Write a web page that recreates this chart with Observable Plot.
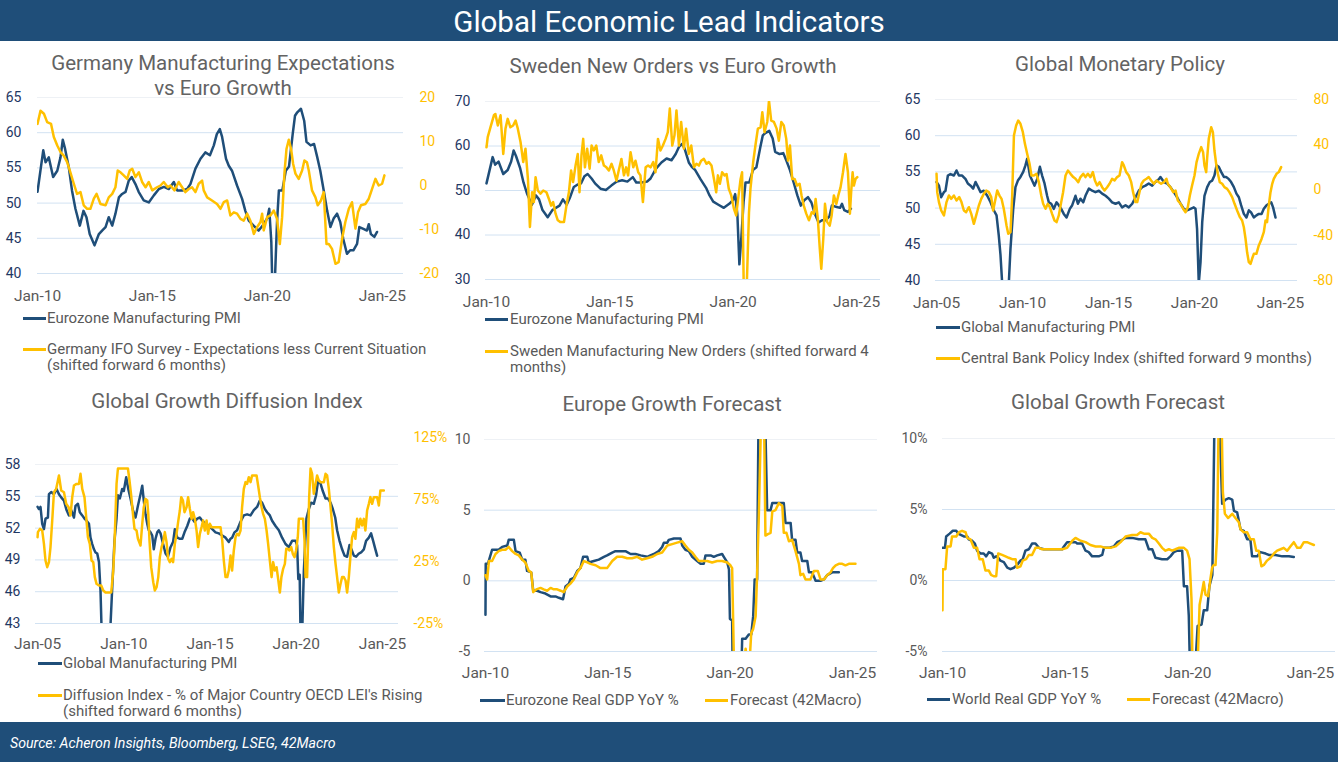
<!DOCTYPE html>
<html><head><meta charset="utf-8">
<script src="https://cdn.jsdelivr.net/npm/d3@7"></script>
<script src="https://cdn.jsdelivr.net/npm/@observablehq/plot@0.6"></script>
<style>
body{margin:0;background:#fff;font-family:Roboto,"DejaVu Sans",sans-serif;}
#root{position:relative;width:1338px;height:762px;overflow:hidden;background:#fff;}
.abs{position:absolute;white-space:nowrap;}
.title{color:#636363;font-size:20.5px;text-align:center;line-height:25px;}
.leg{color:#595959;font-size:15px;line-height:16px;}
</style></head><body><div id="root"></div>
<script>
// ---------- DATA (decimal year, value) ----------
const ezPMI = [[2010.0,51.6],[2010.25,57.5],[2010.35,55.8],[2010.49,56.5],[2010.68,53.7],[2010.86,54.6],[2011.0,56.5],[2011.1,59.0],[2011.2,57.7],[2011.36,55.1],[2011.5,51.8],[2011.65,49.2],[2011.84,46.8],[2012.0,48.9],[2012.13,48.0],[2012.27,45.6],[2012.48,44.0],[2012.67,45.6],[2012.81,46.1],[2012.96,46.6],[2013.1,48.0],[2013.25,46.8],[2013.39,48.5],[2013.54,50.8],[2013.68,51.3],[2013.83,51.6],[2013.97,53.2],[2014.1,53.7],[2014.26,52.7],[2014.4,51.6],[2014.62,50.4],[2014.84,50.1],[2015.06,51.1],[2015.28,52.0],[2015.5,52.3],[2015.71,52.0],[2015.93,53.0],[2016.07,51.8],[2016.3,51.8],[2016.51,52.0],[2016.65,52.7],[2016.87,54.9],[2017.09,56.3],[2017.3,57.2],[2017.5,56.8],[2017.67,58.2],[2017.8,59.8],[2017.93,60.5],[2018.03,59.4],[2018.2,56.3],[2018.32,55.3],[2018.46,54.6],[2018.68,52.5],[2018.9,50.6],[2019.04,48.9],[2019.19,47.5],[2019.4,46.8],[2019.62,46.1],[2019.84,47.0],[2020.0,47.9],[2020.08,49.2],[2020.17,44.5],[2020.25,33.4],[2020.33,39.4],[2020.42,47.4],[2020.5,51.8],[2020.65,51.8],[2020.8,54.6],[2020.94,55.2],[2021.1,59.8],[2021.2,62.4],[2021.3,62.9],[2021.46,63.4],[2021.6,61.7],[2021.7,58.7],[2021.88,58.2],[2022.03,58.4],[2022.17,56.5],[2022.3,54.6],[2022.45,51.8],[2022.6,48.9],[2022.74,46.6],[2022.88,47.8],[2023.03,48.5],[2023.17,47.3],[2023.3,44.9],[2023.46,42.8],[2023.6,43.3],[2023.74,43.3],[2023.9,44.2],[2024.0,46.6],[2024.2,46.3],[2024.33,46.1],[2024.41,47.0],[2024.5,45.6],[2024.65,45.2],[2024.77,45.9]];

const deIFO = [[2010.0,14.0],[2010.13,17.0],[2010.28,16.3],[2010.42,14.4],[2010.59,14.0],[2010.71,11.0],[2010.86,9.1],[2011.0,7.6],[2011.14,6.8],[2011.29,5.3],[2011.43,3.0],[2011.58,0.4],[2011.72,-1.9],[2011.87,-1.5],[2012.01,-4.5],[2012.16,-5.3],[2012.30,-5.3],[2012.45,-3.0],[2012.57,-1.9],[2012.74,-4.2],[2012.96,-4.5],[2013.1,-2.7],[2013.25,-1.9],[2013.39,-0.4],[2013.49,3.4],[2013.61,3.0],[2013.75,2.3],[2013.9,1.5],[2014.01,3.4],[2014.12,3.8],[2014.26,1.9],[2014.41,3.0],[2014.55,0.8],[2014.70,-0.4],[2014.84,0.8],[2014.99,-1.1],[2015.20,-0.4],[2015.35,0.0],[2015.49,0.8],[2015.67,-0.4],[2015.78,0.0],[2015.96,-1.1],[2016.14,0.8],[2016.29,-0.4],[2016.43,-1.5],[2016.58,-0.8],[2016.72,-0.4],[2016.87,-1.5],[2017.01,0.4],[2017.16,1.1],[2017.23,-1.1],[2017.38,-2.7],[2017.59,-3.4],[2017.81,-4.2],[2017.96,-5.3],[2018.10,-3.8],[2018.25,-3.4],[2018.39,-6.8],[2018.54,-6.1],[2018.68,-6.4],[2018.83,-7.6],[2018.97,-8.0],[2019.12,-6.4],[2019.26,-8.0],[2019.41,-11.0],[2019.55,-9.5],[2019.70,-8.3],[2019.77,-6.4],[2019.84,-10.2],[2019.99,-7.2],[2020.13,-6.8],[2020.28,-5.7],[2020.42,-7.6],[2020.54,-13.3],[2020.64,-7.2],[2020.74,2.7],[2020.83,8.3],[2020.93,10.4],[2021.03,8.3],[2021.12,4.9],[2021.22,2.7],[2021.36,1.5],[2021.51,3.4],[2021.61,5.7],[2021.72,5.3],[2021.80,3.4],[2021.94,-1.1],[2022.09,-2.7],[2022.19,-4.5],[2022.33,-3.4],[2022.45,-1.5],[2022.57,-13.3],[2022.67,-13.3],[2022.81,-14.4],[2022.96,-17.8],[2023.10,-17.4],[2023.25,-12.1],[2023.39,-8.3],[2023.54,-5.3],[2023.68,-3.8],[2023.83,-9.8],[2023.94,-6.1],[2024.07,-4.5],[2024.26,-4.2],[2024.41,-3.0],[2024.55,-0.8],[2024.70,1.5],[2024.84,0.0],[2024.99,0.4],[2025.09,2.3]];

const seNO = [[2010.0,59.7],[2010.05,62.0],[2010.16,64.2],[2010.30,66.9],[2010.36,67.2],[2010.46,64.6],[2010.57,66.9],[2010.68,58.2],[2010.77,63.9],[2010.86,66.1],[2010.97,64.2],[2011.08,64.6],[2011.18,65.7],[2011.27,63.9],[2011.38,60.9],[2011.49,56.4],[2011.58,59.4],[2011.68,52.6],[2011.76,41.8],[2011.85,49.6],[2011.92,47.4],[2011.99,53.0],[2012.08,50.0],[2012.19,49.3],[2012.30,50.0],[2012.43,49.6],[2012.53,48.1],[2012.62,46.6],[2012.70,47.4],[2012.80,44.8],[2012.89,43.3],[2013.0,42.9],[2013.14,42.9],[2013.24,46.6],[2013.34,49.6],[2013.43,54.5],[2013.51,51.9],[2013.61,55.6],[2013.70,58.2],[2013.77,49.6],[2013.85,57.9],[2013.92,61.6],[2013.99,55.2],[2014.08,59.4],[2014.18,54.9],[2014.26,60.1],[2014.35,59.0],[2014.45,60.1],[2014.55,56.4],[2014.65,57.9],[2014.76,55.6],[2014.86,55.2],[2014.96,54.5],[2015.07,56.0],[2015.16,54.5],[2015.27,52.2],[2015.36,54.5],[2015.47,57.1],[2015.57,53.4],[2015.66,55.2],[2015.74,53.4],[2015.84,58.6],[2015.95,55.2],[2016.04,56.7],[2016.15,54.1],[2016.24,53.4],[2016.34,47.4],[2016.45,55.2],[2016.55,55.6],[2016.65,55.2],[2016.76,56.4],[2016.85,54.1],[2016.95,61.6],[2017.05,59.0],[2017.15,60.1],[2017.26,61.6],[2017.35,63.1],[2017.43,68.4],[2017.53,60.1],[2017.62,62.4],[2017.70,68.0],[2017.80,60.1],[2017.89,65.4],[2018.0,59.4],[2018.09,63.9],[2018.20,58.2],[2018.30,60.1],[2018.41,55.2],[2018.51,56.0],[2018.61,55.6],[2018.70,56.7],[2018.81,57.1],[2018.92,56.0],[2019.01,56.4],[2019.12,55.6],[2019.22,52.6],[2019.31,49.6],[2019.38,53.4],[2019.46,51.5],[2019.55,54.1],[2019.65,53.4],[2019.73,53.7],[2019.82,50.4],[2019.92,48.9],[2020.03,45.9],[2020.12,44.4],[2020.20,48.1],[2020.30,52.6],[2020.36,54.1],[2020.43,27.0],[2020.54,27.0],[2020.64,45.1],[2020.70,50.4],[2020.81,56.4],[2020.91,60.5],[2021.0,63.9],[2021.11,64.2],[2021.18,67.6],[2021.27,63.1],[2021.38,65.4],[2021.45,70.2],[2021.54,65.7],[2021.65,65.4],[2021.76,63.9],[2021.85,61.2],[2021.95,65.4],[2022.05,64.6],[2022.15,61.6],[2022.22,56.7],[2022.30,60.1],[2022.39,52.6],[2022.49,52.6],[2022.59,51.1],[2022.69,51.5],[2022.77,48.9],[2022.86,46.6],[2022.96,44.8],[2023.07,43.3],[2023.18,45.1],[2023.27,44.8],[2023.34,48.1],[2023.43,43.6],[2023.51,36.9],[2023.57,32.4],[2023.65,39.1],[2023.72,47.0],[2023.81,42.9],[2023.91,42.1],[2023.99,44.4],[2024.08,48.9],[2024.18,47.0],[2024.26,48.9],[2024.35,50.7],[2024.45,54.1],[2024.55,58.2],[2024.65,54.1],[2024.73,44.8],[2024.78,49.6],[2024.84,54.1],[2024.89,51.1],[2024.96,52.6],[2025.03,53.0]];

const glPMI3 = [[2005.0,53.6],[2005.14,53.1],[2005.27,51.5],[2005.43,52.2],[2005.52,52.4],[2005.66,54.5],[2005.81,54.7],[2006.01,54.5],[2006.16,55.2],[2006.30,54.5],[2006.49,54.5],[2006.69,54.0],[2006.82,53.4],[2006.98,53.1],[2007.13,52.7],[2007.27,53.6],[2007.42,52.9],[2007.56,52.2],[2007.75,52.4],[2007.95,51.7],[2008.14,50.8],[2008.33,49.7],[2008.49,49.0],[2008.62,46.2],[2008.72,43.5],[2008.82,39.5],[2008.95,34.0],[2009.11,35.0],[2009.21,40.0],[2009.30,44.4],[2009.46,49.9],[2009.59,52.9],[2009.73,53.8],[2009.88,54.3],[2010.04,55.0],[2010.17,55.9],[2010.27,56.8],[2010.43,54.5],[2010.56,53.8],[2010.70,53.1],[2010.85,54.0],[2011.01,55.7],[2011.14,54.5],[2011.28,53.4],[2011.43,51.7],[2011.53,50.8],[2011.67,50.6],[2011.82,49.9],[2011.98,50.8],[2012.11,50.4],[2012.25,49.9],[2012.40,49.2],[2012.56,48.7],[2012.75,49.9],[2012.89,50.4],[2013.08,51.7],[2013.22,50.6],[2013.37,51.3],[2013.53,50.8],[2013.66,51.7],[2013.86,52.7],[2014.05,52.4],[2014.24,52.2],[2014.44,52.4],[2014.63,52.0],[2014.83,51.7],[2015.02,51.3],[2015.21,50.8],[2015.41,50.6],[2015.60,50.8],[2015.79,50.1],[2015.99,50.4],[2016.18,50.1],[2016.38,50.6],[2016.57,51.5],[2016.76,52.4],[2016.96,52.9],[2017.15,53.1],[2017.34,53.4],[2017.54,53.1],[2017.73,53.6],[2017.93,54.0],[2018.02,54.3],[2018.22,53.6],[2018.41,53.4],[2018.60,52.9],[2018.80,52.2],[2018.99,51.5],[2019.19,50.6],[2019.38,49.9],[2019.57,49.7],[2019.77,49.9],[2019.96,50.1],[2020.06,49.9],[2020.15,47.1],[2020.25,39.6],[2020.35,42.5],[2020.45,48.1],[2020.58,51.7],[2020.74,52.9],[2020.89,53.6],[2021.03,53.8],[2021.16,54.5],[2021.28,55.9],[2021.41,55.7],[2021.55,55.0],[2021.71,54.3],[2021.84,54.3],[2022.0,54.0],[2022.13,53.6],[2022.29,52.9],[2022.44,52.0],[2022.58,51.5],[2022.71,50.4],[2022.87,49.2],[2023.02,48.7],[2023.16,49.7],[2023.29,49.4],[2023.45,48.7],[2023.60,49.0],[2023.74,49.2],[2023.90,49.2],[2024.03,49.9],[2024.19,50.4],[2024.32,50.6],[2024.46,50.8],[2024.57,50.1],[2024.71,48.7]];

const cbPolicy = [[2005.0,14.3],[2005.04,-1.9],[2005.14,-10.7],[2005.27,-18.1],[2005.43,-22.5],[2005.58,-10.7],[2005.72,-4.9],[2005.85,-7.8],[2006.01,-4.9],[2006.16,-9.3],[2006.32,-6.3],[2006.45,-10.7],[2006.59,-18.1],[2006.72,-19.6],[2006.88,-15.2],[2007.02,-21.1],[2007.17,-29.9],[2007.33,-21.1],[2007.46,-13.7],[2007.60,-7.8],[2007.75,-3.4],[2007.89,-0.4],[2008.04,-1.9],[2008.18,-6.3],[2008.29,-18.1],[2008.43,-7.8],[2008.53,-0.4],[2008.66,-4.9],[2008.78,-7.8],[2008.91,-16.6],[2009.07,-31.4],[2009.17,-38.7],[2009.30,-37.3],[2009.40,-4.9],[2009.50,48.2],[2009.63,57.0],[2009.75,61.4],[2009.88,58.5],[2010.02,51.1],[2010.14,40.8],[2010.27,32.0],[2010.41,23.1],[2010.52,12.8],[2010.66,12.8],[2010.81,14.3],[2010.95,6.9],[2011.09,-4.9],[2011.20,-12.2],[2011.34,-16.6],[2011.47,-12.2],[2011.59,-15.2],[2011.72,-21.1],[2011.86,-27.0],[2011.98,-28.4],[2012.11,-22.5],[2012.25,-10.7],[2012.36,-1.9],[2012.50,12.8],[2012.64,17.2],[2012.79,14.3],[2012.95,11.4],[2013.08,9.9],[2013.24,6.9],[2013.37,11.4],[2013.53,14.3],[2013.66,11.4],[2013.80,14.3],[2013.95,11.4],[2014.09,15.8],[2014.21,8.4],[2014.34,4.0],[2014.48,6.9],[2014.63,2.5],[2014.77,-0.4],[2014.92,2.5],[2015.06,5.5],[2015.21,9.9],[2015.35,8.4],[2015.50,11.4],[2015.64,12.8],[2015.79,24.6],[2015.89,21.7],[2016.03,15.8],[2016.18,12.8],[2016.32,6.9],[2016.43,-1.9],[2016.57,-10.7],[2016.67,-10.7],[2016.80,-1.9],[2016.92,5.5],[2017.05,8.4],[2017.21,9.9],[2017.34,11.4],[2017.48,8.4],[2017.64,5.5],[2017.79,8.4],[2017.93,6.9],[2018.06,5.5],[2018.22,6.9],[2018.37,9.9],[2018.45,5.5],[2018.60,2.5],[2018.76,-1.9],[2018.90,-0.4],[2019.03,-9.3],[2019.19,-12.2],[2019.34,-16.6],[2019.48,-19.6],[2019.61,-15.2],[2019.73,-4.9],[2019.86,4.0],[2020.0,12.8],[2020.12,24.6],[2020.25,32.0],[2020.39,37.9],[2020.50,33.4],[2020.58,21.7],[2020.68,15.8],[2020.74,29.0],[2020.83,45.2],[2020.97,55.5],[2021.07,51.1],[2021.16,34.9],[2021.26,23.1],[2021.36,14.3],[2021.47,6.9],[2021.61,5.5],[2021.74,2.5],[2021.90,1.0],[2022.03,-1.9],[2022.19,-6.3],[2022.33,-12.2],[2022.48,-18.1],[2022.64,-24.0],[2022.77,-27.0],[2022.87,-32.9],[2022.97,-43.3],[2023.06,-55.1],[2023.16,-63.8],[2023.26,-65.3],[2023.35,-60.8],[2023.45,-56.4],[2023.60,-56.4],[2023.74,-49.0],[2023.90,-43.3],[2024.03,-37.3],[2024.13,-27.0],[2024.22,-28.4],[2024.32,-13.7],[2024.42,-1.9],[2024.52,5.5],[2024.61,9.9],[2024.77,14.3],[2024.90,15.8],[2025.04,20.2]];

const glPMI4 = [[2005.0,54.0],[2005.08,53.8],[2005.17,54.0],[2005.27,52.4],[2005.37,51.9],[2005.46,52.9],[2005.60,53.0],[2005.66,55.2],[2005.79,55.4],[2005.95,55.2],[2006.10,55.7],[2006.24,55.2],[2006.37,54.9],[2006.53,54.6],[2006.68,53.7],[2006.82,53.2],[2006.95,53.7],[2007.11,53.0],[2007.20,54.1],[2007.34,54.3],[2007.45,53.5],[2007.59,53.2],[2007.72,52.9],[2007.84,52.7],[2007.98,52.4],[2008.07,51.1],[2008.17,50.5],[2008.27,50.0],[2008.36,49.7],[2008.46,49.6],[2008.56,48.8],[2008.65,46.1],[2008.72,42.0],[2008.90,34.0],[2009.08,35.5],[2009.22,42.5],[2009.33,46.4],[2009.46,50.8],[2009.58,52.9],[2009.66,55.1],[2009.77,54.8],[2009.91,55.7],[2010.0,55.5],[2010.14,56.8],[2010.26,55.7],[2010.39,54.8],[2010.53,53.7],[2010.68,53.0],[2010.82,54.1],[2010.97,55.2],[2011.07,56.0],[2011.16,54.6],[2011.26,53.3],[2011.36,52.4],[2011.45,51.8],[2011.55,51.6],[2011.65,51.3],[2011.74,50.0],[2011.84,51.0],[2011.94,51.6],[2012.03,51.8],[2012.13,51.5],[2012.28,50.5],[2012.42,49.6],[2012.56,49.3],[2012.71,50.2],[2012.86,50.7],[2012.96,51.9],[2013.10,51.1],[2013.23,51.0],[2013.39,51.0],[2013.52,51.6],[2013.68,52.2],[2013.83,52.9],[2013.97,52.9],[2014.10,52.6],[2014.26,52.9],[2014.41,53.0],[2014.55,52.7],[2014.74,52.4],[2014.93,52.2],[2015.13,51.9],[2015.32,51.6],[2015.51,51.5],[2015.71,51.3],[2015.90,51.1],[2016.09,50.7],[2016.19,51.0],[2016.28,51.1],[2016.42,51.6],[2016.57,51.8],[2016.77,52.6],[2016.96,53.2],[2017.15,53.3],[2017.35,53.2],[2017.54,53.7],[2017.73,54.0],[2017.89,54.6],[2018.02,54.4],[2018.18,53.8],[2018.31,53.5],[2018.47,53.2],[2018.60,52.7],[2018.80,52.2],[2018.99,51.8],[2019.18,51.1],[2019.38,50.5],[2019.57,50.2],[2019.76,50.8],[2019.96,50.8],[2020.05,50.4],[2020.12,47.2],[2020.20,47.6],[2020.27,39.6],[2020.35,42.4],[2020.44,47.9],[2020.52,50.6],[2020.59,52.9],[2020.73,53.8],[2020.86,54.4],[2021.02,54.3],[2021.15,55.1],[2021.27,56.5],[2021.41,56.2],[2021.54,55.5],[2021.70,54.8],[2021.83,54.8],[2021.99,54.4],[2022.12,53.8],[2022.26,53.0],[2022.37,51.8],[2022.51,50.8],[2022.66,50.0],[2022.80,49.4],[2022.95,49.3],[2023.09,50.4],[2023.20,50.0],[2023.34,49.4],[2023.47,49.3],[2023.63,49.6],[2023.76,49.7],[2023.92,50.0],[2024.05,50.8],[2024.21,51.1],[2024.34,51.5],[2024.46,50.8],[2024.59,50.0],[2024.69,49.4]];

const diffusion = [[2005.0,44.6],[2005.02,48.7],[2005.14,51.3],[2005.27,50.0],[2005.37,39.2],[2005.46,25.8],[2005.56,20.4],[2005.66,24.5],[2005.75,36.6],[2005.85,58.1],[2005.95,80.9],[2006.08,83.6],[2006.24,94.4],[2006.37,82.3],[2006.53,80.9],[2006.66,71.5],[2006.80,68.8],[2006.91,62.1],[2007.01,76.9],[2007.11,86.3],[2007.26,87.6],[2007.40,87.6],[2007.49,95.7],[2007.59,83.6],[2007.72,76.9],[2007.82,60.8],[2007.92,44.6],[2008.03,39.2],[2008.13,25.8],[2008.23,24.5],[2008.32,12.4],[2008.42,7.0],[2008.56,5.6],[2008.69,5.6],[2008.81,1.6],[2008.94,0],[2009.14,0],[2009.27,0],[2009.39,17.7],[2009.46,39.2],[2009.52,63.4],[2009.58,87.6],[2009.66,100],[2009.91,100],[2010.10,100],[2010.24,100],[2010.33,90.3],[2010.43,78.2],[2010.53,63.4],[2010.62,51.3],[2010.74,50.0],[2010.82,43.3],[2010.97,37.9],[2011.07,55.4],[2011.16,68.8],[2011.26,75.5],[2011.36,74.2],[2011.42,63.4],[2011.49,41.9],[2011.59,20.4],[2011.71,8.3],[2011.80,1.6],[2011.90,4.3],[2012.0,12.4],[2012.09,28.5],[2012.19,36.6],[2012.28,40.6],[2012.38,48.7],[2012.48,40.6],[2012.57,27.2],[2012.67,24.5],[2012.77,27.2],[2012.86,24.5],[2012.96,39.2],[2013.06,47.3],[2013.15,56.7],[2013.25,66.1],[2013.33,76.9],[2013.43,74.2],[2013.52,64.8],[2013.64,68.8],[2013.73,76.9],[2013.83,67.5],[2013.93,59.4],[2014.02,64.8],[2014.12,59.4],[2014.22,50.0],[2014.31,36.6],[2014.41,47.3],[2014.51,52.7],[2014.60,58.1],[2014.70,50.0],[2014.80,58.1],[2014.89,47.3],[2014.99,55.4],[2015.09,52.7],[2015.22,52.7],[2015.42,52.7],[2015.61,52.7],[2015.71,41.9],[2015.80,25.8],[2015.90,12.4],[2016.0,12.4],[2016.09,17.7],[2016.19,29.8],[2016.28,17.7],[2016.38,33.9],[2016.48,44.6],[2016.57,47.3],[2016.67,46.0],[2016.77,50.0],[2016.86,68.8],[2016.96,83.6],[2017.06,89.0],[2017.15,87.6],[2017.25,93.0],[2017.35,89.0],[2017.44,94.4],[2017.58,94.4],[2017.70,94.4],[2017.79,86.3],[2017.89,76.9],[2017.99,68.8],[2018.08,63.4],[2018.18,59.4],[2018.28,50.0],[2018.37,39.2],[2018.47,25.8],[2018.57,12.4],[2018.66,24.5],[2018.76,17.7],[2018.86,20.4],[2018.95,11.0],[2019.05,0],[2019.14,12.4],[2019.24,19.1],[2019.34,23.1],[2019.42,35.2],[2019.51,35.2],[2019.61,33.9],[2019.71,36.6],[2019.80,31.2],[2019.90,28.5],[2019.99,33.9],[2020.09,44.6],[2020.15,59.4],[2020.29,59.4],[2020.40,59.4],[2020.48,41.9],[2020.54,12.4],[2020.63,12.4],[2020.69,41.9],[2020.75,76.9],[2020.83,100],[2020.92,95.7],[2021.02,79.6],[2021.12,87.6],[2021.21,94.4],[2021.31,90.3],[2021.41,89.0],[2021.50,89.0],[2021.60,89.0],[2021.70,95.7],[2021.79,94.4],[2021.89,83.6],[2021.99,68.8],[2022.08,55.4],[2022.18,36.6],[2022.28,23.1],[2022.37,12.4],[2022.47,0],[2022.57,7.0],[2022.66,12.4],[2022.76,12.4],[2022.86,9.7],[2022.95,0],[2023.05,12.4],[2023.14,28.5],[2023.24,44.6],[2023.34,48.7],[2023.43,43.3],[2023.53,59.4],[2023.63,52.7],[2023.72,59.4],[2023.82,54.0],[2023.92,59.4],[2024.01,50.0],[2024.11,66.1],[2024.21,71.5],[2024.30,76.9],[2024.40,71.5],[2024.50,76.9],[2024.59,76.9],[2024.69,76.9],[2024.79,70.2],[2024.88,82.3],[2025.08,82.3]];

const ezGDP = [[2010.0,-2.4],[2010.01,1.2],[2010.1,1.2],[2010.27,2.2],[2010.54,2.2],[2010.68,2.4],[2010.89,2.5],[2010.95,2.9],[2011.16,2.9],[2011.23,2.1],[2011.40,2.0],[2011.50,1.5],[2011.63,1.5],[2011.70,0.7],[2011.87,0.6],[2011.95,-0.7],[2012.11,-0.7],[2012.25,-0.8],[2012.45,-0.9],[2012.66,-1.1],[2012.86,-1.1],[2013.0,-1.2],[2013.17,-1.3],[2013.27,-0.4],[2013.41,-0.2],[2013.47,0.1],[2013.61,0.2],[2013.75,0.7],[2013.88,0.9],[2013.99,1.7],[2014.16,1.7],[2014.22,1.3],[2014.43,1.4],[2014.63,1.5],[2014.84,1.7],[2014.97,1.8],[2015.18,2.0],[2015.31,2.1],[2015.52,2.1],[2015.72,2.1],[2015.93,1.9],[2016.13,1.9],[2016.34,1.8],[2016.61,1.7],[2016.74,1.8],[2016.88,1.9],[2017.08,2.1],[2017.22,2.4],[2017.29,2.7],[2017.43,2.7],[2017.49,2.9],[2017.70,3.0],[2017.97,3.0],[2018.04,2.5],[2018.17,2.2],[2018.31,2.1],[2018.45,1.7],[2018.65,1.4],[2018.79,1.2],[2018.92,1.2],[2018.99,1.8],[2019.20,1.8],[2019.33,1.7],[2019.47,1.8],[2019.67,1.9],[2019.74,1.7],[2019.88,1.3],[2019.95,0.8],[2019.99,-2.7],[2020.08,-2.8],[2020.15,-14.5],[2020.35,-14.0],[2020.49,-4.1],[2020.63,-4.1],[2020.76,-3.8],[2020.86,-3.8],[2020.94,-2.5],[2021.0,0.1],[2021.10,0.1],[2021.17,14.0],[2021.40,14.0],[2021.51,5.0],[2021.65,5.0],[2021.72,5.5],[2021.92,5.5],[2022.19,5.5],[2022.26,4.1],[2022.47,4.1],[2022.53,2.9],[2022.67,2.9],[2022.74,2.0],[2022.87,2.0],[2022.94,1.4],[2023.15,1.4],[2023.22,0.6],[2023.35,0.6],[2023.49,0.0],[2023.69,0.0],[2023.83,0.1],[2023.96,0.4],[2024.17,0.6],[2024.31,0.6],[2024.44,0.6]];

const ezFcst = [[2010.0,0.4],[2010.07,0.1],[2010.14,1.4],[2010.27,1.4],[2010.41,1.9],[2010.54,2.1],[2010.68,2.2],[2010.82,2.2],[2010.95,2.4],[2011.09,2.1],[2011.23,1.9],[2011.36,1.8],[2011.50,1.5],[2011.63,1.3],[2011.77,0.7],[2011.87,0.6],[2011.95,-0.8],[2012.08,-0.6],[2012.25,-0.5],[2012.38,-0.6],[2012.52,-0.7],[2012.66,-0.5],[2012.79,-0.6],[2012.93,-0.6],[2013.07,-0.7],[2013.20,-0.8],[2013.34,-0.4],[2013.47,-0.2],[2013.61,0.1],[2013.75,0.6],[2013.88,0.9],[2014.02,1.4],[2014.16,1.3],[2014.29,1.2],[2014.50,1.1],[2014.70,0.9],[2014.97,0.9],[2015.18,1.4],[2015.38,1.7],[2015.59,1.7],[2015.79,1.6],[2015.99,1.6],[2016.20,1.7],[2016.40,1.5],[2016.61,1.6],[2016.81,1.7],[2017.02,1.9],[2017.22,2.0],[2017.43,2.5],[2017.63,2.6],[2017.83,2.7],[2018.04,2.8],[2018.17,2.5],[2018.31,2.2],[2018.45,2.0],[2018.58,1.7],[2018.72,1.4],[2018.86,1.4],[2019.06,1.4],[2019.26,1.3],[2019.47,1.4],[2019.67,1.4],[2019.88,1.3],[2020.01,1.1],[2020.08,0.9],[2020.12,-2.7],[2020.22,-12.0],[2020.42,-13.0],[2020.56,-6.0],[2020.63,-4.8],[2020.69,-5.5],[2020.80,-5.5],[2020.86,-3.7],[2020.94,-3.4],[2021.04,-2.5],[2021.10,0.4],[2021.17,4.6],[2021.27,12.0],[2021.38,12.0],[2021.44,3.2],[2021.54,3.3],[2021.65,3.4],[2021.72,4.9],[2021.85,5.0],[2021.99,5.5],[2022.13,5.3],[2022.19,3.4],[2022.30,3.4],[2022.40,2.8],[2022.53,2.9],[2022.67,2.1],[2022.81,1.2],[2022.87,0.4],[2022.98,0.5],[2023.08,0.1],[2023.28,0.1],[2023.42,0.7],[2023.58,0.7],[2023.69,0.1],[2023.83,0.1],[2023.96,0.4],[2024.10,0.6],[2024.20,0.9],[2024.31,1.1],[2024.44,1.2],[2024.58,1.2],[2024.71,1.1],[2024.85,1.2],[2024.96,1.2],[2025.12,1.2]];

const wGDP = [[2010.0,2.3],[2010.10,2.3],[2010.15,3.1],[2010.29,3.3],[2010.42,3.5],[2010.56,3.5],[2010.64,3.3],[2010.87,3.1],[2011.01,3.1],[2011.07,2.9],[2011.21,2.8],[2011.32,2.6],[2011.41,2.1],[2011.55,1.9],[2011.68,1.9],[2011.78,1.7],[2011.89,2.0],[2012.02,1.9],[2012.09,1.6],[2012.19,1.7],[2012.27,1.6],[2012.36,1.4],[2012.50,1.3],[2012.64,0.9],[2012.77,0.8],[2012.91,0.9],[2013.04,1.1],[2013.18,1.4],[2013.27,1.5],[2013.38,2.1],[2013.52,2.2],[2013.65,2.6],[2013.79,2.6],[2013.93,2.3],[2014.13,2.2],[2014.33,2.2],[2014.61,2.2],[2014.88,2.2],[2014.95,2.4],[2015.08,2.7],[2015.29,2.7],[2015.42,2.7],[2015.49,2.6],[2015.69,2.6],[2015.83,2.1],[2015.96,2.0],[2016.10,1.7],[2016.24,1.7],[2016.37,1.7],[2016.51,1.8],[2016.58,2.3],[2016.78,2.3],[2016.98,2.4],[2017.12,2.7],[2017.26,2.8],[2017.46,3.0],[2017.73,3.0],[2018.0,2.9],[2018.27,2.9],[2018.41,2.2],[2018.55,2.2],[2018.68,1.6],[2018.95,1.5],[2019.16,1.5],[2019.29,1.7],[2019.43,2.0],[2019.57,2.1],[2019.77,2.1],[2019.84,-0.4],[2019.97,-0.4],[2020.04,-2.5],[2020.11,-8.0],[2020.24,-8.0],[2020.40,-3.2],[2020.56,-3.1],[2020.65,-2.1],[2020.79,-2.1],[2020.88,-0.4],[2021.0,0.4],[2021.10,13.0],[2021.26,13.0],[2021.40,5.4],[2021.54,5.7],[2021.67,5.8],[2021.81,5.7],[2021.88,4.9],[2022.01,4.8],[2022.15,3.6],[2022.28,3.5],[2022.42,2.9],[2022.55,2.9],[2022.62,1.7],[2022.83,1.7],[2022.96,2.0],[2023.17,1.9],[2023.30,1.8],[2023.57,1.8],[2023.85,1.7],[2024.12,1.7],[2024.32,1.65]];

const wFcst = [[2010.0,-2.1],[2010.01,0.8],[2010.12,0.8],[2010.19,2.4],[2010.33,2.4],[2010.39,3.1],[2010.56,3.1],[2010.67,3.4],[2010.80,3.5],[2010.94,3.4],[2011.01,3.0],[2011.14,2.9],[2011.28,2.3],[2011.41,2.3],[2011.51,1.5],[2011.64,1.5],[2011.75,0.7],[2011.89,0.7],[2011.98,0.4],[2012.09,0.3],[2012.19,0.3],[2012.27,1.9],[2012.43,1.8],[2012.57,1.7],[2012.70,1.6],[2012.84,1.5],[2012.98,1.5],[2013.04,0.9],[2013.18,1.0],[2013.27,1.4],[2013.41,1.5],[2013.52,1.8],[2013.65,1.8],[2013.79,2.3],[2013.93,2.3],[2014.06,2.2],[2014.33,2.2],[2014.61,2.2],[2014.88,2.2],[2015.08,2.3],[2015.29,2.8],[2015.42,3.0],[2015.63,2.8],[2015.83,2.7],[2016.03,2.5],[2016.24,2.4],[2016.44,2.4],[2016.64,2.3],[2016.85,2.3],[2017.05,2.4],[2017.26,2.7],[2017.46,3.1],[2017.73,3.2],[2017.93,3.2],[2018.07,3.4],[2018.21,3.3],[2018.41,3.3],[2018.55,3.0],[2018.68,2.9],[2018.82,2.6],[2018.95,2.3],[2019.09,2.1],[2019.23,2.2],[2019.36,2.1],[2019.50,2.2],[2019.63,2.3],[2019.84,2.3],[2019.97,2.1],[2020.07,1.5],[2020.15,-1.3],[2020.20,-7.0],[2020.38,-7.0],[2020.48,-1.7],[2020.58,-0.8],[2020.65,-0.1],[2020.72,-1.0],[2020.83,-1.1],[2020.92,0.1],[2020.99,0.9],[2021.06,1.1],[2021.13,1.1],[2021.20,3.4],[2021.26,12.0],[2021.37,12.0],[2021.43,6.2],[2021.51,4.7],[2021.64,4.4],[2021.81,4.7],[2021.94,4.4],[2022.08,4.1],[2022.15,3.6],[2022.28,3.4],[2022.42,3.4],[2022.55,2.9],[2022.69,2.9],[2022.79,2.1],[2022.89,2.1],[2023.0,1.0],[2023.10,1.1],[2023.23,1.4],[2023.37,1.6],[2023.51,1.9],[2023.64,2.1],[2023.78,2.2],[2023.91,2.3],[2024.05,2.1],[2024.18,2.4],[2024.32,2.7],[2024.46,2.3],[2024.59,2.3],[2024.73,2.7],[2024.86,2.7],[2025.0,2.6],[2025.14,2.5]];

// tick values
const ticks10 = [2010, 2015, 2020, 2025];
const ticks05 = [2005, 2010, 2015, 2020, 2025];
const pmiTicks = [40, 45, 50, 55, 60, 65];
const ifoTicks = [-20, -10, 0, 10, 20];
const seTicks = [30, 40, 50, 60, 70];
const cbTicks = [-80, -40, 0, 40, 80];
const gp4Ticks = [43, 46, 49, 52, 55, 58];
const diffTicks = [-25, 25, 75, 125];
const gdpTicks = [-5, 0, 5, 10];

// ---------- STYLE ----------
const NAVY = "#1F4E79", GOLD = "#FFC000", GRAY = "#595959", AXNAVY = "#1F3864";
const GRID = "#D2E2F2", GRIDTOP = "#EEF1F5";
const FONT = "Roboto, 'DejaVu Sans', sans-serif";
const XFS = 15.5;
const root = document.getElementById("root");

function div(cls, x, y, html, css) {
  const d = document.createElement("div");
  d.className = "abs " + (cls || "");
  d.style.left = x + "px"; d.style.top = y + "px";
  if (css) d.style.cssText += css;
  d.innerHTML = html;
  root.appendChild(d);
  return d;
}
function title(cx, cy, html) { div("title", cx - 220, cy - 12.5, html, "width:440px;"); }
function legText(x, cy, html) { div("leg", x, cy - 8, html); }
function icon(x0, x1, cy, color) {
  div("", x0, cy - 1.5, "", `width:${x1 - x0}px;height:3px;background:${color};`);
}
const xFmt = d => "Jan-" + String(d).slice(2);
const lineOf = (data, color) => Plot.line(data, {x: d => d[0], y: d => d[1], stroke: color, strokeWidth: 2.5, strokeLinejoin: "round", clip: true});

function layer(p, yDomain, marks, hasX) {
  const f = p.frame, b = p.box;
  const svg = Plot.plot({
    width: b.w, height: b.h,
    marginLeft: f.x0 - b.x, marginRight: b.x + b.w - f.x1,
    marginTop: f.y0 - b.y, marginBottom: b.y + b.h - f.y1,
    x: Object.assign({type: "linear", domain: p.xDomain}, hasX ? {} : {axis: null}),
    y: {type: "linear", domain: yDomain},
    style: {background: "transparent", fontFamily: FONT, overflow: "visible"},
    marks
  });
  const w = document.createElement("div");
  w.style.cssText = `position:absolute;left:${b.x}px;top:${b.y}px;width:${b.w}px;height:${b.h}px;`;
  w.appendChild(svg);
  root.appendChild(w);
}

function panel(p) {
  const f = p.frame;
  const L = p.left;
  const base = [
    Plot.ruleY(L.ticks.slice(0, -1), {stroke: GRID, strokeWidth: 1}),
    Plot.ruleY(L.ticks.slice(-1), {stroke: GRIDTOP, strokeWidth: 1}),
    Plot.axisX(p.xTicks, {tickFormat: xFmt, tickSize: 0, tickPadding: p.xLabelY - f.y1 - 0.355 * XFS, fontSize: XFS, color: GRAY, label: null}),
    Plot.axisY(L.ticks, {anchor: "left", tickFormat: L.fmt || (d => String(d)), tickSize: 0, tickPadding: f.x0 - L.labelX, fontSize: 14, color: L.color, label: null}),
    ...L.series.map(s => lineOf(s[0], s[1]))
  ];
  layer(p, L.domain, base, true);
  if (p.right) {
    const R = p.right;
    layer(p, R.domain, [
      Plot.axisY(R.ticks, {anchor: "right", tickFormat: R.fmt || (d => String(d)), tickSize: 0, tickPadding: R.labelX - f.x1, fontSize: 14, color: R.color, label: null, textAnchor: "start"}),
      ...R.series.map(s => lineOf(s[0], s[1]))
    ], false);
  }
}

// ---------- HEADER / FOOTER ----------
div("", 0, 0, "Global Economic Lead Indicators", `width:1338px;height:41px;background:${NAVY};color:#fff;font-size:29.5px;line-height:44px;text-align:center;`);
div("", 0, 722, "Source: Acheron Insights, Bloomberg, LSEG, 42Macro", `width:1328px;height:40px;background:${NAVY};color:#fff;font-size:14.2px;font-style:italic;line-height:42px;padding-left:10px;`);

// ---------- PANEL 1 ----------
panel({
  box: {x: 0, y: 90, w: 446, h: 225}, frame: {x0: 37, x1: 403, y0: 97, y1: 273},
  xDomain: [2010, 2025.92], xTicks: ticks10, xLabelY: 295,
  left: {domain: [40, 65], ticks: pmiTicks, labelX: 21, color: AXNAVY, series: [[ezPMI, NAVY]]},
  right: {domain: [-20, 20], ticks: ifoTicks, labelX: 419, color: GOLD, series: [[deIFO, GOLD]]}
});
title(223, 63, "Germany Manufacturing Expectations<br>vs Euro Growth");
icon(23, 46, 318, NAVY); legText(47, 318, "Eurozone Manufacturing PMI");
icon(23, 46, 349, GOLD); legText(47, 349, "Germany IFO Survey - Expectations less Current Situation<br>(shifted forward 6 months)");

// ---------- PANEL 2 ----------
panel({
  box: {x: 446, y: 92, w: 446, h: 225}, frame: {x0: 485, x1: 880, y0: 101, y1: 279},
  xDomain: [2009.96, 2025.97], xTicks: ticks10, xLabelY: 301,
  left: {domain: [30, 70], ticks: seTicks, labelX: 470, color: AXNAVY, series: [[ezPMI, NAVY], [seNO, GOLD]]}
});
title(673, 66, "Sweden New Orders vs Euro Growth");
icon(485, 508, 319, NAVY); legText(510, 319, "Eurozone Manufacturing PMI");
icon(485, 508, 351, GOLD); legText(510, 351, "Sweden Manufacturing New Orders (shifted forward 4<br>months)");

// ---------- PANEL 3 ----------
panel({
  box: {x: 892, y: 92, w: 446, h: 225}, frame: {x0: 935, x1: 1297, y0: 99, y1: 280},
  xDomain: [2004.94, 2025.99], xTicks: ticks05, xLabelY: 302,
  left: {domain: [40, 65], ticks: pmiTicks, labelX: 920, color: AXNAVY, series: [[glPMI3, NAVY]]},
  right: {domain: [-80, 80], ticks: cbTicks, labelX: 1313, color: GOLD, series: [[cbPolicy, GOLD]]}
});
title(1120, 64, "Global Monetary Policy");
icon(936, 960, 327, NAVY); legText(961, 327, "Global Manufacturing PMI");
icon(936, 960, 358, GOLD); legText(961, 358, "Central Bank Policy Index (shifted forward 9 months)");

// ---------- PANEL 4 ----------
panel({
  box: {x: 0, y: 430, w: 446, h: 225}, frame: {x0: 35, x1: 398, y0: 437, y1: 623},
  xDomain: [2004.88, 2025.93], xTicks: ticks05, xLabelY: 643,
  left: {domain: [43, 60.55], ticks: gp4Ticks, labelX: 20, color: AXNAVY, series: [[glPMI4, NAVY]]},
  right: {domain: [-25, 125], ticks: diffTicks, fmt: d => d + "%", labelX: 413, color: GOLD, series: [[diffusion, GOLD]]}
});
title(227, 401, "Global Growth Diffusion Index");
icon(38, 62, 663, NAVY); legText(63, 663, "Global Manufacturing PMI");
icon(38, 62, 695, GOLD); legText(63, 695, "Diffusion Index - % of Major Country OECD LEI's Rising<br>(shifted forward 6 months)");

// ---------- PANEL 5 ----------
panel({
  box: {x: 446, y: 432, w: 446, h: 225}, frame: {x0: 484, x1: 877, y0: 439, y1: 651},
  xDomain: [2009.96, 2026.02], xTicks: ticks10, xLabelY: 672,
  left: {domain: [-5, 10], ticks: gdpTicks, labelX: 470, color: GRAY, series: [[ezGDP, NAVY], [ezFcst, GOLD]]}
});
title(672, 404, "Europe Growth Forecast");
icon(480, 505, 700, NAVY); legText(506, 700, "Eurozone Real GDP YoY %");
icon(705, 728, 700, GOLD); legText(730, 700, "Forecast (42Macro)");

// ---------- PANEL 6 ----------
panel({
  box: {x: 892, y: 432, w: 446, h: 225}, frame: {x0: 942, x1: 1335, y0: 438, y1: 651},
  xDomain: [2010, 2026.02], xTicks: ticks10, xLabelY: 672,
  left: {domain: [-5, 10], ticks: gdpTicks, fmt: d => d + "%", labelX: 927, color: GRAY, series: [[wGDP, NAVY], [wFcst, GOLD]]}
});
title(1118, 402, "Global Growth Forecast");
icon(927, 950, 699, NAVY); legText(952, 699, "World Real GDP YoY %");
icon(1127, 1150, 699, GOLD); legText(1152, 699, "Forecast (42Macro)");
</script></body></html>
